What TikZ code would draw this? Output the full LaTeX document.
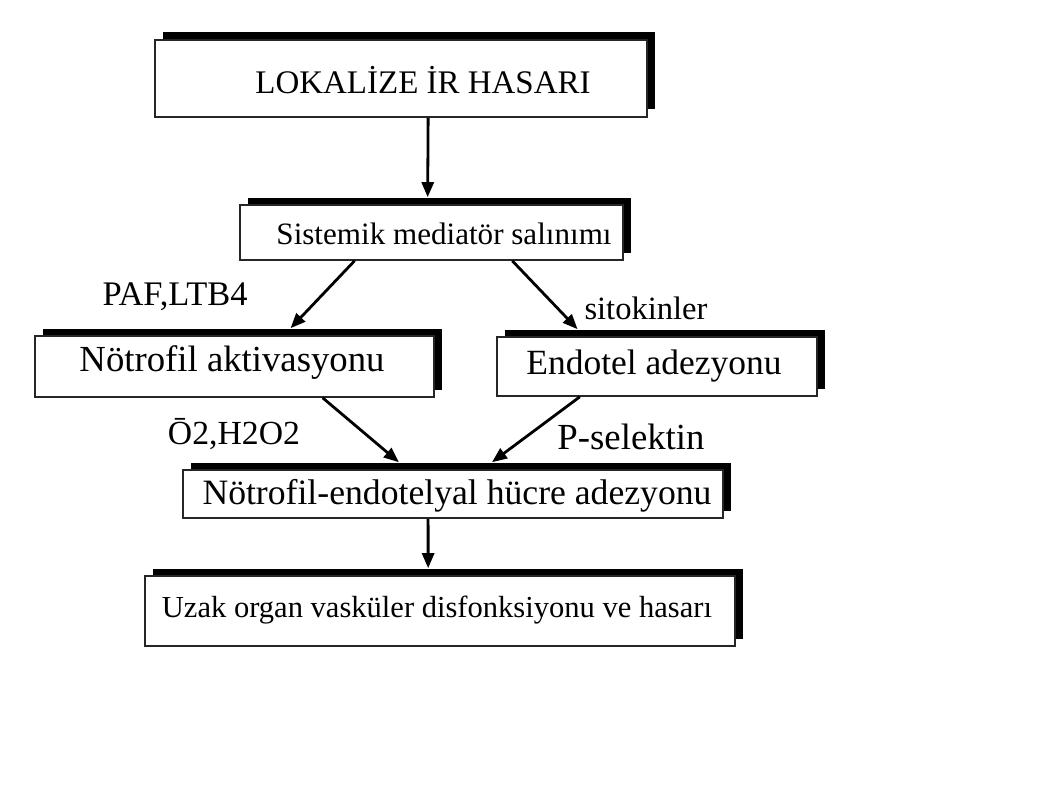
\documentclass[tikz,border=0pt]{standalone}
\usepackage{fontspec}
\usepackage{graphicx}
\setmainfont{Liberation Serif}
\newfontfamily\labfont{Liberation Serif}
\usetikzlibrary{arrows.meta,shadows,calc}
\newcommand\fitw[2]{\resizebox{#1pt}{!}{#2}}
\begin{document}
\begin{tikzpicture}[x=1pt,y=-1pt,
  box/.style={draw=black!85,line width=1.6pt,fill=white,rectangle,inner sep=0pt,
    drop shadow={shadow xshift=7.5pt,shadow yshift=7.5pt,fill=black,opacity=1}},
  txt/.style={inner sep=0pt,anchor=center},
  lab/.style={inner sep=0pt,anchor=center,font=\labfont},
  arr/.style={line width=2.8pt,-{Triangle[length=15pt,width=12pt]}}]
\useasboundingbox (0,0) rectangle (1057,797);
\fill[white] (0,0) rectangle (1057,797);
% boxes
\node[box,minimum width=492pt,minimum height=77pt] (b1) at (401,78.5) {};
\node[box,minimum width=383pt,minimum height=55pt] (b2) at (431.5,232.5) {};
\node[box,minimum width=399pt,minimum height=61pt] (b3) at (234.5,366.5) {};
\node[box,minimum width=320pt,minimum height=59pt] (b4) at (657,366.5) {};
\node[box,minimum width=540pt,minimum height=48pt] (b5) at (453,494) {};
\node[box,minimum width=590pt,minimum height=70pt] (b6) at (440,611) {};
% texts
\node[txt] (t1) at (423,80) {\fitw{335}{LOKALİZE İR HASARI}};
\node[txt] (t2) at (444,234) {\fitw{335}{Sistemik mediatör salınımı}};
\node[txt] (t3) at (232,363) {\fitw{305}{Nötrofil aktivasyonu}};
\node[txt] (t4) at (654,366) {\fitw{255}{Endotel adezyonu}};
\node[txt] (t5) at (457,496) {\fitw{509}{Nötrofil-endotelyal hücre adezyonu}};
\node[txt] (t6) at (437,610) {\fitw{550}{Uzak organ vasküler disfonksiyonu ve hasarı}};
% labels
\node[lab] (l1) at (175,297) {\fitw{145}{PAF,LTB4}};
\node[lab] (l2) at (646,308) {\fitw{123}{sitokinler}};
\node[lab] (l3) at (234,434) {\fitw{132}{\={O}2,H2O2}};
\node[lab] (l4) at (631,437) {\fitw{147}{P-selektin}};
% arrows
\draw[arr] ($(b1.south west)!0.555!(b1.south east)$) -- ($(b2.north west)!0.49!(b2.north east)+(0,-7)$);
\draw[arr] ($(b2.south west)!0.30!(b2.south east)$) -- ($(b3.north west)!0.64!(b3.north east)+(0,-7)$);
\draw[arr] ($(b2.south west)!0.71!(b2.south east)$) -- ($(b4.north west)!0.253!(b4.north east)+(0,-7)$);
\draw[arr] ($(b3.south west)!0.72!(b3.south east)$) -- ($(b5.north west)!0.40!(b5.north east)+(0,-7)$);
\draw[arr] ($(b4.south west)!0.26!(b4.south east)$) -- ($(b5.north west)!0.572!(b5.north east)+(0,-7)$);
\draw[arr] ($(b5.south west)!0.454!(b5.south east)$) -- ($(b6.north west)!0.48!(b6.north east)+(0,-7)$);
\end{tikzpicture}
\end{document}
